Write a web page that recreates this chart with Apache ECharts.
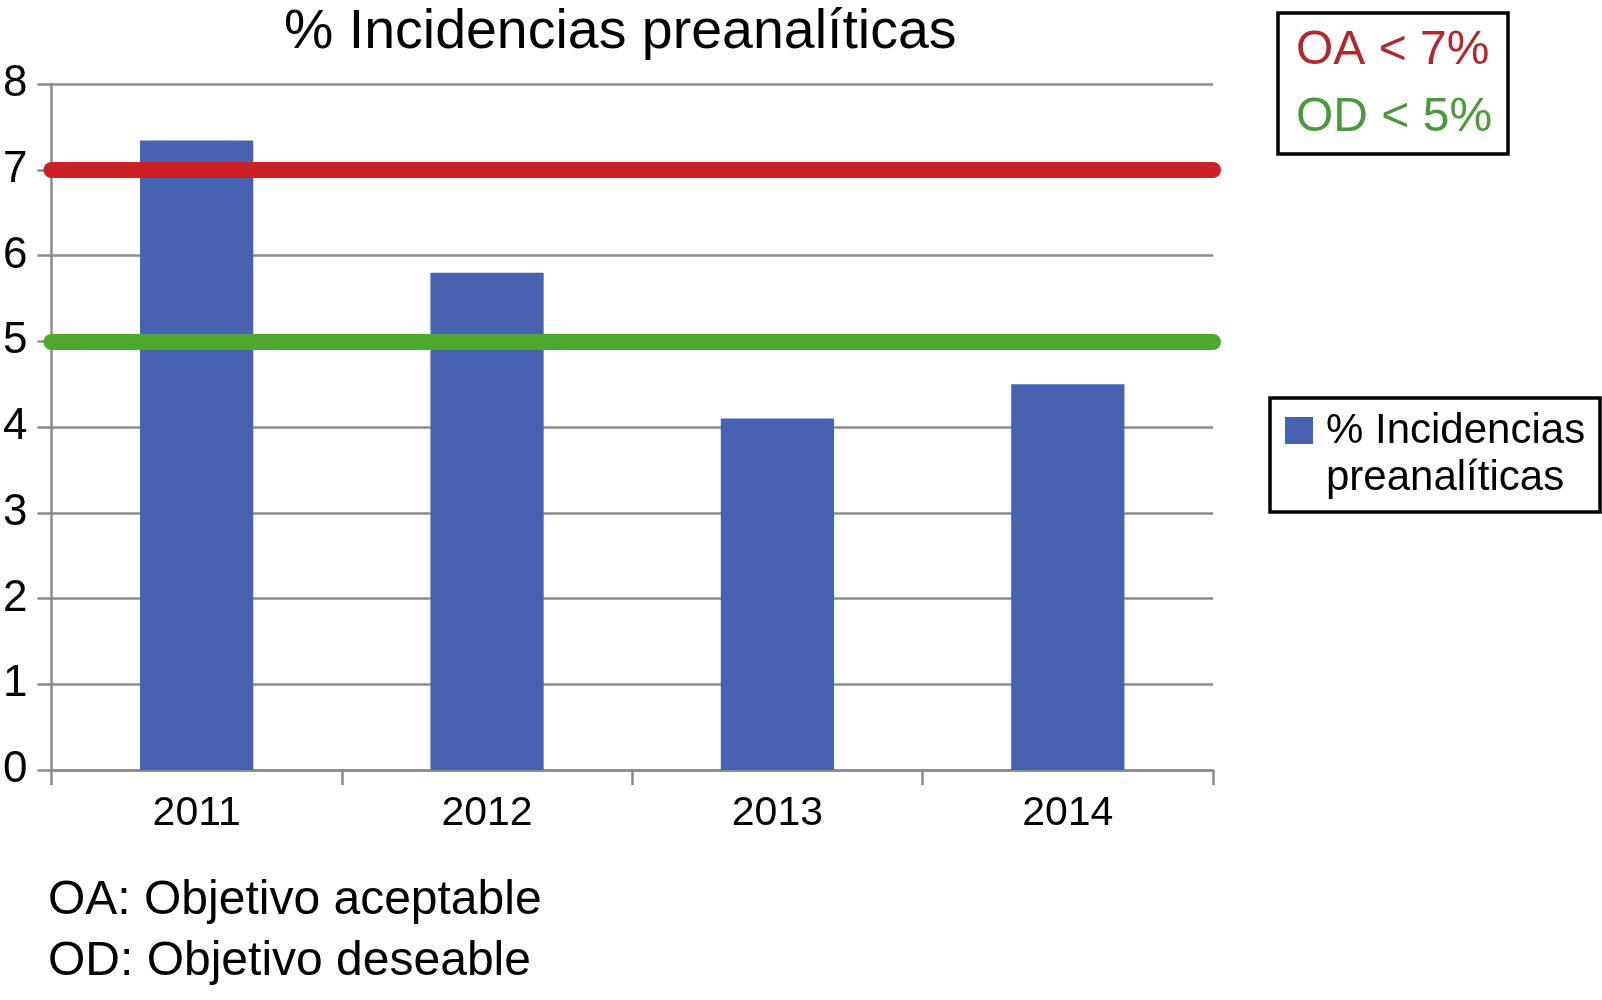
<!DOCTYPE html>
<html>
<head>
<meta charset="utf-8">
<script src="https://cdn.jsdelivr.net/npm/echarts@6/dist/echarts.min.js"></script>
<style>
html,body{margin:0;padding:0;background:#fff;}
#chart{width:1602px;height:1000px;}
</style>
</head>
<body>
<div id="chart"></div>
<script>
const categories = ['2011', '2012', '2013', '2014'];
const incidencias = [7.34, 5.8, 4.1, 4.5];
const objetivoAceptable = 7;
const objetivoDeseable = 5;
const seriesName = '% Incidencias preanalíticas';
const legendLines = ['% Incidencias', 'preanalíticas'];
const targetLabels = ['OA < 7%', 'OD < 5%'];
const notes = ['OA: Objetivo aceptable', 'OD: Objetivo deseable'];

const FONT = '"Liberation Sans", Arial, Helvetica, sans-serif';
const chart = echarts.init(document.getElementById('chart'));

chart.setOption({
  backgroundColor: '#fff',
  animation: false,
  title: {
    text: seriesName,
    left: 279,
    top: 0,
    textStyle: { fontFamily: FONT, fontSize: 55.5, fontWeight: 'normal', color: '#000' }
  },
  grid: { left: 46, right: 389, top: 84, bottom: 230, containLabel: false },
  xAxis: {
    type: 'category',
    data: categories,
    axisLine: { show: true, lineStyle: { color: '#8a8a8a', width: 2.5 } },
    axisTick: { show: true, length: 15, lineStyle: { color: '#8a8a8a', width: 2.5 } },
    axisLabel: { fontFamily: FONT, fontSize: 41, color: '#000', margin: 23 }
  },
  yAxis: {
    type: 'value',
    min: 0, max: 8, interval: 1,
    axisLine: { show: true, lineStyle: { color: '#8a8a8a', width: 2.5 } },
    axisTick: { show: true, length: 14, lineStyle: { color: '#8a8a8a', width: 2.5 } },
    axisLabel: { fontFamily: FONT, fontSize: 44, color: '#000', margin: 24 },
    splitLine: { show: true, lineStyle: { color: '#8c8c8c', width: 2.5 } }
  },
  series: [{
    name: seriesName,
    type: 'bar',
    data: incidencias,
    barWidth: '39%',
    itemStyle: { color: '#4862b2' },
    markLine: {
      silent: true,
      symbol: ['none', 'none'],
      label: { show: false },
      data: [
        { yAxis: objetivoAceptable, lineStyle: { color: '#cc1f26', width: 16, type: 'solid', cap: 'round' } },
        { yAxis: objetivoDeseable, lineStyle: { color: '#4ea72e', width: 16, type: 'solid', cap: 'round' } }
      ]
    }
  }],
  graphic: [
    { type: 'rect', shape: { x: 1278, y: 13, width: 230, height: 141 },
      style: { fill: '#fff', stroke: '#000', lineWidth: 3.5 } },
    { type: 'text', x: 1296, y: 51,
      style: { text: targetLabels[0], font: '48px ' + FONT, fill: '#b3262b', verticalAlign: 'middle' } },
    { type: 'text', x: 1296, y: 118,
      style: { text: targetLabels[1], font: '48px ' + FONT, fill: '#4b9a3a', verticalAlign: 'middle' } },
    { type: 'rect', shape: { x: 1270, y: 398, width: 330, height: 114 },
      style: { fill: '#fff', stroke: '#000', lineWidth: 3.5 } },
    { type: 'rect', shape: { x: 1285, y: 417, width: 28, height: 27 },
      style: { fill: '#4862b2' } },
    { type: 'text', x: 1326, y: 431,
      style: { text: legendLines[0], font: '42px ' + FONT, fill: '#000', verticalAlign: 'middle' } },
    { type: 'text', x: 1326, y: 478,
      style: { text: legendLines[1], font: '42px ' + FONT, fill: '#000', verticalAlign: 'middle' } },
    { type: 'text', x: 48, y: 901,
      style: { text: notes[0], font: '48px ' + FONT, fill: '#000', verticalAlign: 'middle' } },
    { type: 'text', x: 48, y: 962,
      style: { text: notes[1], font: '48px ' + FONT, fill: '#000', verticalAlign: 'middle' } }
  ]
});
</script>
</body>
</html>
